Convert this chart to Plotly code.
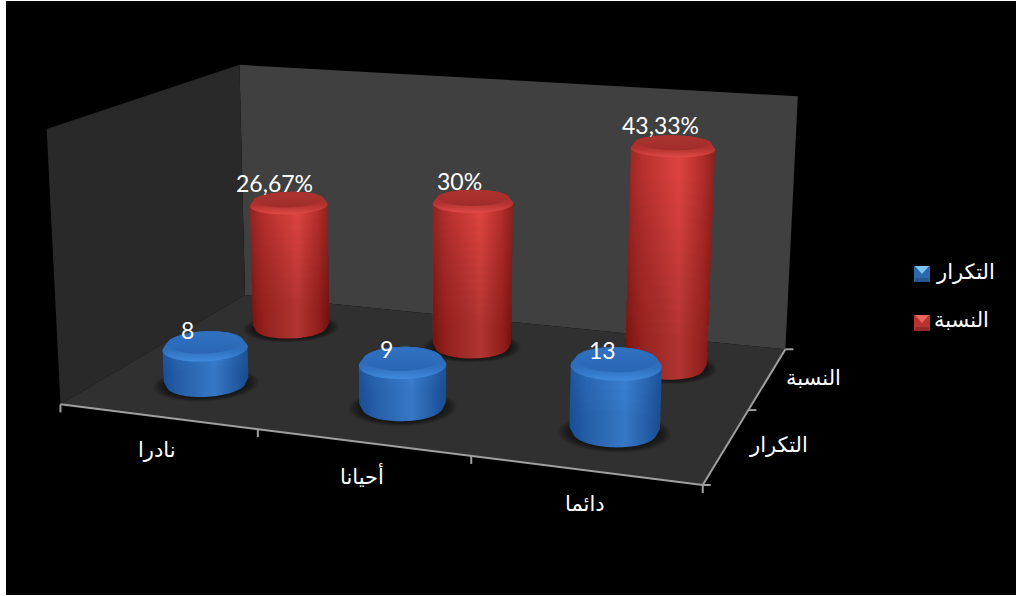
import numpy as np
import plotly.graph_objects as go

# ---- chart data ----
CATEGORIES = ["نادرا", "أحيانا", "دائما"]
SERIES = ["التكرار", "النسبة"]
FREQUENCY = [8, 9, 13]
PERCENT = [26.67, 30, 43.33]
VALUE_MAX = 50

# ---- page and 3D box layout ----
W, H = 1016, 596
BOX_ANCHORS = [
    ((0, 0, 0), (61, 404)), ((1, 0, 0), (702, 484)), ((1, 1, 0), (785, 349)),
    ((0, 1, 0), (245, 295)), ((0, 0, 1), (47, 128)), ((1, 1, 1), (798, 97)),
    ((0, 1, 1), (239, 65)), ((1 / 3, 0, 0), (258, 430)), ((2 / 3, 0, 0), (470, 458)),
    ((1, 0.5, 0), (750, 409)),
]
RX, RY = 0.066, 0.105
BEVEL = 0.022
SERIES_DEPTH = [0.25, 0.75]
PALETTE = {
    "FREQ": dict(body=[[0, "#1d569d"], [.18, "#2b6ab9"], [.6, "#3c84d8"], [.85, "#2a68b6"], [1, "#1d5196"]],
                 rim=[[0, "#2b68b3"], [.6, "#2e6ebd"], [1, "#408adc"]],
                 cap=[[0, "#3072c1"], [1, "#2a66b3"]], fade=6),
    "PCT": dict(body=[[0, "#8e2320"], [.18, "#b52f2c"], [.6, "#dc4340"], [.85, "#b42e2b"], [1, "#88201d"]],
                rim=[[0, "#a32c29"], [.6, "#b23230"], [1, "#e04a46"]],
                cap=[[0, "#ad3430"], [1, "#a02c29"]], fade=14),
}
FONT_NUM = "Lato, Open Sans, sans-serif"
FONT_AR = "Liberation Sans, DejaVu Sans, sans-serif"


def fit_projection(anchors):
    """Solve the 3x4 camera matrix that maps box coordinates to page pixels."""
    rows = []
    for (x, y, z), (u, v) in anchors:
        u, v = u - W / 2, v - H / 2
        p = [x, y, z, 1]
        rows.append(p + [0, 0, 0, 0] + [-u * c for c in p])
        rows.append([0, 0, 0, 0] + p + [-v * c for c in p])
    return np.linalg.svd(np.array(rows, float))[2][-1].reshape(3, 4)


CAM = fit_projection(BOX_ANCHORS)


def project(pts):
    pts = np.atleast_2d(np.array(pts, float))
    q = CAM @ np.c_[pts, np.ones(len(pts))].T
    return np.c_[q[0] / q[2] + W / 2, q[1] / q[2] + H / 2]


def ring(cx, cy, scale, z, n=90):
    t = np.linspace(0, 2 * np.pi, n, endpoint=False)
    return np.c_[cx + RX * scale * np.cos(t), cy + RY * scale * np.sin(t), np.full(n, z)]


def hull(pts):
    pts = sorted(map(tuple, pts))
    def half(seq):
        out = []
        for p in seq:
            while len(out) > 1 and (out[-1][0] - out[-2][0]) * (p[1] - out[-2][1]) - (out[-1][1] - out[-2][1]) * (p[0] - out[-2][0]) <= 0:
                out.pop()
            out.append(p)
        return out[:-1]
    return np.array(half(pts) + half(pts[::-1]))


fig = go.Figure()


def polygon(xy, color=None, gradient=None, axis="h"):
    xy = np.vstack([xy, xy[:1]])
    kw = dict(x=xy[:, 0], y=xy[:, 1], mode="none", fill="toself", hoverinfo="skip", showlegend=False)
    if gradient:
        k = 0 if axis == "h" else 1
        kw["fillgradient"] = dict(type="horizontal" if axis == "h" else "vertical", colorscale=gradient,
                                  start=xy[:, k].min(), stop=xy[:, k].max())
    else:
        kw["fillcolor"] = color
    fig.add_trace(go.Scatter(**kw))


def line(xy, color="#a0a0a0", width=2):
    xy = np.array(xy)
    fig.add_trace(go.Scatter(x=xy[:, 0], y=xy[:, 1], mode="lines", line=dict(color=color, width=width),
                             hoverinfo="skip", showlegend=False))


def text(x, y, s, family, size):
    fig.add_annotation(x=x, y=y, text=s, showarrow=False, xanchor="center", yanchor="middle",
                       font=dict(family=family, size=size, color="white"))


# walls and floor
polygon(project([(0, 1, 0), (1, 1, 0), (1, 1, 1), (0, 1, 1)]), "#404040")
polygon(project([(0, 0, 0), (0, 1, 0), (0, 1, 1), (0, 0, 1)]), "#292929")
polygon(project([(0, 0, 0), (1, 0, 0), (1, 1, 0), (0, 1, 0)]), "#303030")

# axis lines with their tick marks
line(project([(0, 0, 0), (1, 0, 0)]))
line(project([(1, 0, 0), (1, 1, 0)]))
for t in (0, 1 / 3, 2 / 3, 1):
    p = project((t, 0, 0))[0]
    line([p, p + (0, 8)])
for t in (0, .5, 1):
    p = project((1, t, 0))[0]
    line([p, p + (8, 0)])


def cylinder(cx, cy, value, colors):
    h = value / VALUE_MAX
    # soft contact shadow on the floor
    for s in np.linspace(1.25, 1.0, 10):
        polygon(project(ring(cx, cy, s, 0)), "rgba(0,0,0,0.06)")
    rings = [ring(cx, cy, .93, 0), ring(cx, cy, 1, BEVEL), ring(cx, cy, 1, h - BEVEL), ring(cx, cy, .9, h)]
    polygon(hull(project(np.vstack(rings))), gradient=colors["body"])
    # the shaft darkens gently toward the floor
    for f in np.linspace(.1, .8, colors["fade"]):
        polygon(hull(project(np.vstack([ring(cx, cy, .93, 0), ring(cx, cy, 1, BEVEL), ring(cx, cy, 1, max(BEVEL, h * f))]))),
                "rgba(0,0,0,0.012)")
    polygon(hull(project(np.vstack([ring(cx, cy, 1, h - BEVEL), ring(cx, cy, .9, h)]))), gradient=colors["rim"], axis="v")
    polygon(project(ring(cx, cy, .86, h)), gradient=colors["cap"], axis="v")


centres = [1 / 6, 1 / 2, 5 / 6]
for cx, v in zip(centres, PERCENT):
    cylinder(cx, SERIES_DEPTH[1], v, PALETTE["PCT"])
for cx, v in zip(centres, FREQUENCY):
    cylinder(cx, SERIES_DEPTH[0], v, PALETTE["FREQ"])

# value labels sit above each cap, slightly left of its centre
PCT_SHIFT = [(-14, -17), (-13, -17), (-13, -18)]
FREQ_SHIFT = [(-18, -13), (-16, -10), (-14, -10)]
for cx, v, (dx, dy) in zip(centres, PERCENT, PCT_SHIFT):
    p = project((cx, SERIES_DEPTH[1], v / VALUE_MAX))[0]
    text(p[0] + dx, p[1] + dy, f"{v:g}%".replace(".", ","), FONT_NUM, 23)
for cx, v, (dx, dy) in zip(centres, FREQUENCY, FREQ_SHIFT):
    p = project((cx, SERIES_DEPTH[0], v / VALUE_MAX))[0]
    text(p[0] + dx, p[1] + dy, str(v), FONT_NUM, 23)

# category and depth axis labels
for cx, name in zip(centres, CATEGORIES):
    p = project((cx, 0, 0))[0]
    text(p[0] + 0, p[1] + 33, name, FONT_AR, 21)
for cy, dx, name in zip(SERIES_DEPTH, (52, 46), SERIES):
    p = project((1, cy, 0))[0]
    text(p[0] + dx, p[1] - 1, name, FONT_AR, 21)


def legend_key(x0, y0, size, light, mid, dark):
    x1, y1 = x0 + size, y0 + size
    c = (x0 + size / 2, y0 + size / 2)
    polygon(np.array([(x0, y0), (x1, y0), (x1, y1), (x0, y1)]), mid)
    polygon(np.array([(x0 + 1, y0), (x1 - 1, y0), c]), light)
    polygon(np.array([(x0, y1), (x1, y1), (x1 - 2, y1 - 4), (x0 + 2, y1 - 4)]), dark)


legend_key(914, 266, 16, "#7cc4f2", "#2c68ae", "#245590")
legend_key(914, 315, 16, "#ec625c", "#b8322f", "#962a28")
text(965, 272, SERIES[0], FONT_AR, 21)
text(961, 319, SERIES[1], FONT_AR, 21)

fig.update_layout(
    width=W, height=H, margin=dict(l=0, r=0, t=0, b=0),
    paper_bgcolor="black", plot_bgcolor="black", showlegend=False,
    xaxis=dict(visible=False, range=[0, W], fixedrange=True),
    yaxis=dict(visible=False, range=[H, 0], fixedrange=True),
    # pale strip along the left, top and bottom page edges
    shapes=[
        dict(type="rect", xref="x", yref="y", x0=0, x1=6, y0=0, y1=H, fillcolor="white", line_width=0),
        dict(type="rect", xref="x", yref="y", x0=0, x1=W, y0=0, y1=1, fillcolor="white", line_width=0),
        dict(type="rect", xref="x", yref="y", x0=0, x1=W, y0=595, y1=H, fillcolor="white", line_width=0),
    ],
)
fig.write_html("out.html")
